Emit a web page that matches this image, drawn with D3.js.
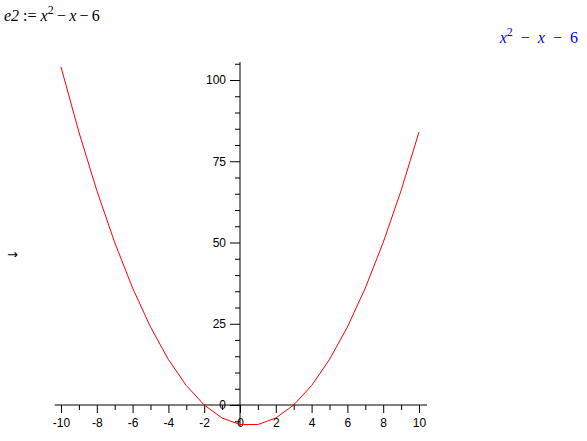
<!DOCTYPE html>
<html>
<head>
<meta charset="utf-8">
<script src="https://cdn.jsdelivr.net/npm/d3@7"></script>
<style>
  body { margin: 0; background: #fff; }
  svg text { font-family: "Liberation Sans", Arial, sans-serif; }
  .tex { font-family: "Liberation Serif", "Times New Roman", serif; }
</style>
</head>
<body>
<div id="chart"></div>
<script>
xs = [-10, -9, -8, -7, -6, -5, -4, -3, -2, -1, 0, 1, 2, 3, 4, 5, 6, 7, 8, 9, 10]
ys = [104, 84, 66, 50, 36, 24, 14, 6, 0, -4, -6, -6, -4, 0, 6, 14, 24, 36, 50, 66, 84]

xMajor = [-10, -8, -6, -4, -2, 0, 2, 4, 6, 8, 10]
xMinor = [-9, -7, -5, -3, -1, 1, 3, 5, 7, 9]
yMajor = [0, 25, 50, 75, 100]
yMinor = [-5, 5, 10, 15, 20, 30, 35, 40, 45, 55, 60, 65, 70, 80, 85, 90, 95, 105]

width = 587
height = 441

svg = d3.select("#chart")
  .append("svg")
  .attr("width", width)
  .attr("height", height)

x = d3.scaleLinear().domain([-10, 10]).range([61, 419])
y = d3.scaleLinear().domain([0, 100]).range([405, 80])

// x axis
gx = svg.append("g").attr("transform", `translate(0, ${y(0)})`)
gx.append("line")
  .attr("x1", x(-10.35)).attr("x2", x(10.45))
  .attr("stroke", "black")
gx.append("g")
  .call(d3.axisBottom(x).tickValues(xMajor).tickSize(8).tickPadding(5).tickFormat(d => String(d)))
  .call(g => g.select(".domain").remove())
  .style("font-size", "12px")
gx.append("g")
  .call(d3.axisBottom(x).tickValues(xMinor).tickSize(5).tickFormat(""))
  .call(g => g.select(".domain").remove())

// y axis
gy = svg.append("g").attr("transform", `translate(${x(0)}, 0)`)
gy.append("line")
  .attr("y1", y(-6.5)).attr("y2", y(105.5))
  .attr("stroke", "black")
gy.append("g")
  .call(d3.axisLeft(y).tickValues(yMajor).tickSize(10).tickPadding(4).tickFormat(d => String(d)))
  .call(g => g.select(".domain").remove())
  .style("font-size", "12px")
gy.append("g")
  .call(d3.axisLeft(y).tickValues(yMinor).tickSize(5).tickFormat(""))
  .call(g => g.select(".domain").remove())

svg.selectAll(".tick text").attr("fill", "black")

// curve
pts = xs.map((v, i) => [v, ys[i]])
svg.append("path")
  .datum(pts)
  .attr("fill", "none")
  .attr("stroke", "red")
  .attr("stroke-width", 1)
  .attr("d", d3.line().x(d => x(d[0])).y(d => y(d[1])))

// title text
t = svg.append("text").attr("class", "tex").attr("x", 4).attr("y", 21).style("font-size", "16px")
t.append("tspan").style("font-style", "italic").text("e2")
t.append("tspan").text(" := ")
t.append("tspan").style("font-style", "italic").text("x")
t.append("tspan").attr("dy", -7).style("font-size", "12px").text("2")
t.append("tspan").attr("dy", 7).text("\u2009\u2212\u2009")
t.append("tspan").style("font-style", "italic").text("x")
t.append("tspan").text("\u2009\u2212\u2009")
t.append("tspan").text("6")

// output expression, right side
r = svg.append("text").attr("class", "tex").attr("x", 578).attr("y", 43)
  .attr("text-anchor", "end").attr("fill", "#0000ff").style("font-size", "16px")
r.append("tspan").style("font-style", "italic").text("x")
r.append("tspan").attr("dy", -7).style("font-size", "12px").text("2")
r.append("tspan").attr("dy", 7).text("\u2002\u2212\u2002")
r.append("tspan").style("font-style", "italic").text("x")
r.append("tspan").text("\u2002\u2212\u2002" + "6")

svg.append("text")
  .attr("x", 7).attr("y", 259)
  .style("font-family", "DejaVu Sans")
  .style("font-size", "13px")
  .text("\u2192")
</script>
</body>
</html>
